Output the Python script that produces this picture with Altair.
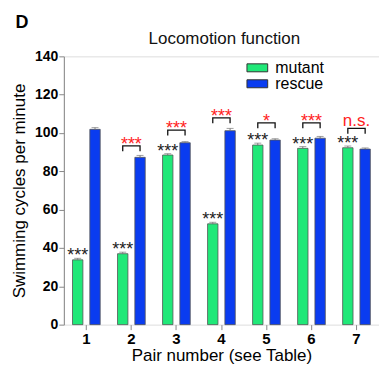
import altair as alt
import pandas as pd

pairs = [1, 2, 3, 4, 5, 6, 7]
mutant = [33.8, 37.0, 88.5, 52.6, 93.7, 92.0, 92.3]
rescue = [101.9, 87.3, 94.9, 101.2, 96.3, 97.3, 91.6]
mutant_err = [0.8, 0.8, 0.7, 0.8, 1.0, 0.9, 0.9]
rescue_err = [0.9, 1.0, 0.6, 1.2, 0.7, 0.9, 0.6]
mutant_sig = ["***"] * 7
pair_sig = ["", "***", "***", "***", "*", "***", "n.s."]
bracket_y = [None, 93.3, 101.5, 107.9, 105.3, 105.3, 102.4]
leg = 2.8

FONT = "Liberation Sans"
groups = ["mutant", "rescue"]
order = [str(p) for p in pairs]

rows = []
for i, p in enumerate(pairs):
    rows.append({"pair": str(p), "group": "mutant", "value": mutant[i], "err": mutant_err[i]})
    rows.append({"pair": str(p), "group": "rescue", "value": rescue[i], "err": rescue_err[i]})
bars_df = pd.DataFrame(rows)
bars_df["top"] = bars_df["value"] + bars_df["err"]

msig_df = pd.DataFrame({"pair": order, "group": "mutant",
                        "value": [m + e for m, e in zip(mutant, mutant_err)], "label": mutant_sig})

br_rows = []
psig_rows = []
for i, p in enumerate(pairs):
    b = bracket_y[i]
    if b is None:
        continue
    br_rows += [
        {"pair": str(p), "group": "mutant", "value": b - leg, "o": 0},
        {"pair": str(p), "group": "mutant", "value": b, "o": 1},
        {"pair": str(p), "group": "rescue", "value": b, "o": 2},
        {"pair": str(p), "group": "rescue", "value": b - leg, "o": 3},
    ]
    psig_rows.append({"pair": str(p), "value": b, "label": pair_sig[i],
                      "star": pair_sig[i].startswith("*")})
br_df = pd.DataFrame(br_rows)
psig_df = pd.DataFrame(psig_rows)

xscale = alt.Scale(domain=order, paddingInner=0, paddingOuter=0)
xoff = alt.Scale(domain=groups, paddingInner=0.4, paddingOuter=0.5)
yscale = alt.Scale(domain=[0, 140], nice=False)

x_axis = alt.Axis(title="Pair number (see Table)", labelAngle=0, labelFontWeight="bold",
                  labelFontSize=15, labelPadding=2, titleFontSize=17, titleFontWeight="normal",
                  titlePadding=1, tickSize=5, domain=False)
y_axis = alt.Axis(title="Swimming cycles per minute", values=[0, 20, 40, 60, 80, 100, 120, 140],
                  labelOverlap=False, labelFontWeight="bold", labelFontSize=14, labelPadding=1,
                  titleFontSize=17, titleFontWeight="normal", titlePadding=6, grid=False,
                  tickSize=5)

enc_x = alt.X("pair:N", scale=xscale, sort=order, axis=x_axis)
enc_off = alt.XOffset("group:N", scale=xoff)
enc_y = alt.Y("value:Q", scale=yscale, axis=y_axis)

bars = alt.Chart(bars_df).mark_bar(stroke="#555", strokeWidth=0.8).encode(
    x=enc_x,
    xOffset=enc_off,
    y=enc_y,
    fill=alt.Fill("group:N", scale=alt.Scale(domain=groups, range=["#20e878", "#0a3cf0"]),
                  legend=alt.Legend(title=None, orient="none", legendX=186, legendY=3.5,
                                    symbolType="M-2.6,-1H2.6V1H-2.6Z", symbolSize=64,
                                    symbolStrokeColor="#333", symbolStrokeWidth=1,
                                    labelFontSize=16, labelFont=FONT, labelOffset=10, rowPadding=-7,
                                    symbolOpacity=1)),
)

err = alt.Chart(bars_df).mark_rule(color="#777", strokeWidth=1).encode(
    x=enc_x, xOffset=enc_off, y=enc_y, y2="top:Q",
)
caps = alt.Chart(bars_df).transform_calculate(value="datum.top").mark_tick(
    color="#777", thickness=1, size=7
).encode(x=enc_x, xOffset=enc_off, y=enc_y)

msig = alt.Chart(msig_df).mark_text(font=FONT, fontSize=18, color="#222", baseline="alphabetic", dy=3).encode(
    x=enc_x, xOffset=enc_off, y=enc_y, text="label:N",
)

brackets = alt.Chart(br_df).mark_line(color="#111", strokeWidth=1.3).encode(
    x=enc_x, xOffset=enc_off, y=enc_y, detail="pair:N", order="o:Q",
)

psig_star = alt.Chart(psig_df).transform_filter("datum.star").mark_text(
    font=FONT, fontSize=18, color="#ff2222", baseline="alphabetic", dy=4
).encode(x=enc_x, y=enc_y, text="label:N")

psig_ns = alt.Chart(psig_df).transform_filter("!datum.star").mark_text(
    font=FONT, fontSize=17, color="#ff2222", baseline="alphabetic", dy=-2
).encode(x=enc_x, y=enc_y, text="label:N")

dlabel = alt.Chart(pd.DataFrame({"t": ["D"]})).mark_text(
    font=FONT, fontSize=18, fontWeight="bold", color="black", align="center", baseline="top"
).encode(x=alt.value(-42), y=alt.value(-42), text="t:N")

tlabel = alt.Chart(pd.DataFrame({"t": ["Locomotion function"]})).mark_text(
    font=FONT, fontSize=17, color="#111", align="center", baseline="top"
).encode(x=alt.value(161), y=alt.value(-25), text="t:N")

chart = alt.layer(bars, err, caps, msig, brackets, psig_star, psig_ns, dlabel, tlabel).properties(
    width=316, height=269,
    padding={"left": 2, "top": 6, "right": 0, "bottom": 0},
).configure_view(stroke="#888", strokeWidth=1).configure_axis(
    domainColor="#888", tickColor="#888", labelColor="black", titleColor="black",
    labelFont=FONT, titleFont=FONT,
).configure(background="white")

chart.save("out.html", embed_options={"renderer": "svg", "actions": False})
